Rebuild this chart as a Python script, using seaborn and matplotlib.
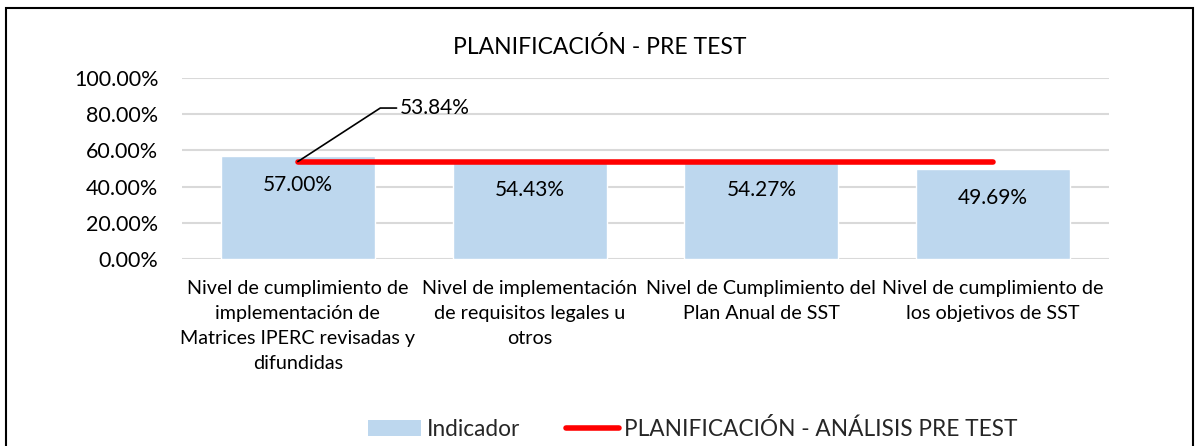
import matplotlib
matplotlib.use("Agg")
import matplotlib.pyplot as plt
import matplotlib.patches as mpatches
from matplotlib.lines import Line2D
from matplotlib.ticker import FuncFormatter, MultipleLocator
import seaborn as sns
import pandas as pd

categories = [
    "Nivel de cumplimiento de\nimplementación de\nMatrices IPERC revisadas y\ndifundidas",
    "Nivel de implementación\nde requisitos legales u\notros",
    "Nivel de Cumplimiento del\nPlan Anual de SST",
    "Nivel de cumplimiento de\nlos objetivos de SST",
]
indicador = [0.5700, 0.5443, 0.5427, 0.4969]
pre_test = [0.5384, 0.5384, 0.5384, 0.5384]
y_ticks = [0.0, 0.2, 0.4, 0.6, 0.8, 1.0]

title = "PLANIFICACIÓN - PRE TEST"
bar_label = "Indicador"
line_label = "PLANIFICACIÓN - ANÁLISIS PRE TEST"

BAR_COLOR = "#BDD7EE"
LINE_COLOR = "#FF0000"
GRID_COLOR = "#D9D9D9"
FONT = ["Lato", "DejaVu Sans"]

sns.set_theme(style="white")
plt.rcParams["font.family"] = FONT

df = pd.DataFrame({"categoria": categories, "valor": indicador})

fig = plt.figure(figsize=(12, 4.46), dpi=100)
ax = fig.add_axes([182 / 1200, 1 - 259 / 446, (1109 - 182) / 1200, (259 - 78) / 446])

sns.barplot(data=df, x="categoria", y="valor", color=BAR_COLOR, width=0.664,
            saturation=1, ax=ax, zorder=2)
ax.plot(range(len(categories)), pre_test, color=LINE_COLOR, lw=4,
        solid_capstyle="round", zorder=3)

ax.set_ylim(y_ticks[0], y_ticks[-1])
ax.set_xlim(-0.5, len(categories) - 0.5)
ax.yaxis.set_major_locator(MultipleLocator(0.2))
ax.yaxis.set_major_formatter(FuncFormatter(lambda v, p: f"{v * 100:.2f}%"))
ax.grid(axis="y", color=GRID_COLOR, lw=1.5, zorder=0)
ax.set_axisbelow(True)
for s in ax.spines.values():
    s.set_visible(False)
ax.set_xlabel("")
ax.set_ylabel("")
ax.tick_params(axis="y", labelsize=15.5, pad=17, length=0, colors="black")
ax.tick_params(axis="x", labelsize=14.2, pad=15, length=0, colors="black")
for lbl in ax.get_xticklabels():
    lbl.set_linespacing(1.58)

# value labels inside the bars
for i, v in enumerate(indicador):
    ax.annotate(f"{v * 100:.2f}%", xy=(i, v), xytext=(0, -21),
                textcoords="offset points", ha="center", va="center",
                fontsize=15, color="black", zorder=4)

# callout for the pre-test line value
ax.annotate(f"{pre_test[0] * 100:.2f}%", xy=(0, pre_test[0]), xytext=(0.44, 0.834),
            textcoords="data", ha="left", va="center", fontsize=15, color="black",
            arrowprops=dict(arrowstyle="-", color="black", lw=1.2, shrinkA=0, shrinkB=0,
                            connectionstyle="angle,angleA=0,angleB=33,rad=0"),
            zorder=5)

fig.text(600 / 1200, 1 - 47 / 446, title, ha="center", va="center", fontsize=16.5,
         color="black")

handles = [
    mpatches.Patch(facecolor=BAR_COLOR, edgecolor="none", label=bar_label),
    Line2D([0], [0], color=LINE_COLOR, lw=4, solid_capstyle="round", label=line_label),
]
fig.legend(handles=handles, loc="center", bbox_to_anchor=(693 / 1200, 1 - 429 / 446),
           ncol=2, frameon=False, fontsize=16.3, handlelength=2.35, handleheight=0.65,
           handletextpad=0.25, columnspacing=2.0)

fig.add_artist(mpatches.Rectangle((6 / 1200, -0.2), (1193 - 6) / 1200, 0.2 + 1 - 8 / 446,
                                  transform=fig.transFigure, fill=False,
                                  edgecolor="black", lw=1.5))

fig.savefig("out.png", dpi=100)
